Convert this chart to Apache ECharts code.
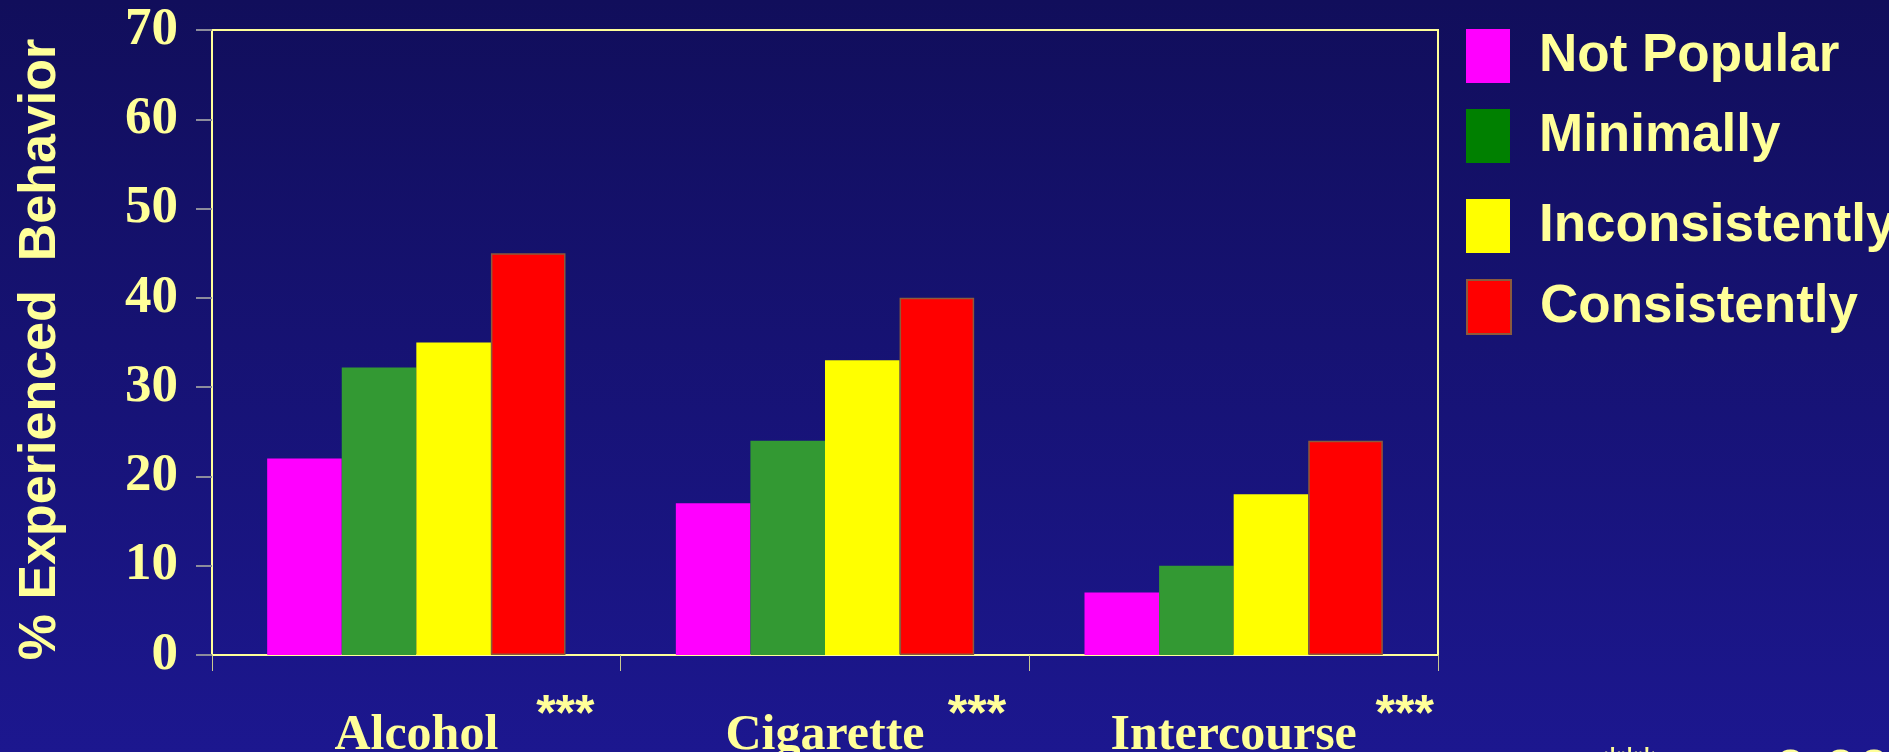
<!DOCTYPE html>
<html>
<head>
<meta charset="utf-8">
<script src="https://cdn.jsdelivr.net/npm/echarts@6/dist/echarts.min.js"></script>
<style>
html,body{margin:0;padding:0;background:#1a1580;}
#chart{width:1889px;height:752px;}
</style>
</head>
<body>
<div id="chart"></div>
<script>
const categories = ['Alcohol', 'Cigarette', 'Intercourse'];
const seriesNames = ['Not Popular', 'Minimally', 'Inconsistently', 'Consistently'];
const notPopular = [22, 17, 7];
const minimally = [32.2, 24, 10];
const inconsistently = [35, 33, 18];
const consistently = [45, 40, 24];
const yTicks = [0, 10, 20, 30, 40, 50, 60, 70];
const significance = ['***', '***', '***'];
const footnoteStars = '***';
const footnoteText = ' p < 0.001';

const TXT = '#FFFF99';
const SERIF = "'Liberation Serif','Times New Roman',serif";
const SANS = "'Liberation Sans',Arial,sans-serif";
const barColors = ['#FF00FF', '#339933', '#FFFF00', '#FF0000'];
const legendColors = ['#FF00FF', '#008000', '#FFFF00', '#FF0000'];
const legendTops = [24, 104, 194, 274];
const starPads = [298, 304, 342];
const values = [notPopular, minimally, inconsistently, consistently];

const starRich = {};
starPads.forEach((p, i) => {
  starRich['s' + i] = {
    padding: [0, 0, 0, p],
    color: TXT, fontFamily: SANS, fontSize: 50, fontWeight: 'bold'
  };
});

const chart = echarts.init(document.getElementById('chart'));
chart.setOption({
  animation: false,
  backgroundColor: {
    type: 'linear', x: 0, y: 0, x2: 0, y2: 1,
    colorStops: [{offset: 0, color: '#110E5B'}, {offset: 1, color: '#1C178F'}]
  },
  title: {
    text: '{s|' + footnoteStars + '}{t|' + footnoteText + '}',
    left: 1604, top: 744, padding: 0,
    textStyle: {
      color: TXT, fontFamily: SANS, fontSize: 60, fontWeight: 'normal',
      rich: {
        s: {color: TXT, fontFamily: SANS, fontSize: 44, verticalAlign: 'top'},
        t: {color: TXT, fontFamily: SANS, fontSize: 60}
      }
    }
  },
  legend: seriesNames.map((n, i) => ({
    orient: 'vertical',
    left: 1461, top: legendTops[i],
    itemWidth: 44, itemHeight: 54,
    icon: 'rect',
    selectedMode: false,
    data: [{name: n, itemStyle: {color: legendColors[i]}}],
    textStyle: {color: TXT, fontFamily: SANS, fontSize: 53, fontWeight: 'bold', padding: [0, 0, 0, 24]}
  })),
  grid: {
    left: 212, right: 451, top: 30, bottom: 97,
    containLabel: false,
    outerBoundsMode: 'none',
    show: true, borderColor: TXT, borderWidth: 2, backgroundColor: 'transparent'
  },
  xAxis: [{
    type: 'category',
    data: categories,
    axisLine: {lineStyle: {color: TXT, width: 2}},
    axisTick: {show: true, length: 16, lineStyle: {color: '#C8C890', width: 1}},
    axisLabel: {
      margin: 56, interval: 0,
      color: TXT, fontFamily: SERIF, fontSize: 50, fontWeight: 'bold'
    }
  }, {
    type: 'category',
    data: categories,
    position: 'bottom',
    axisLine: {show: false},
    axisTick: {show: false},
    axisLabel: {
      margin: 36, interval: 0,
      formatter: (v, i) => '{s' + i + '|' + significance[i] + '}',
      rich: starRich,
      color: TXT, fontFamily: SANS, fontSize: 50, fontWeight: 'bold'
    }
  }],
  yAxis: {
    type: 'value',
    min: yTicks[0], max: yTicks[yTicks.length - 1], interval: 10,
    name: '% Experienced  Behavior',
    nameLocation: 'middle', nameRotate: 90, nameGap: 145,
    nameTextStyle: {color: TXT, fontFamily: SANS, fontSize: 52, fontWeight: 'bold', padding: [0, 14, 0, 0]},
    axisLine: {show: true, lineStyle: {color: TXT, width: 2}},
    axisTick: {show: true, length: 16, lineStyle: {color: '#8C8C9C', width: 2}},
    splitLine: {show: false},
    axisLabel: {margin: 34, color: TXT, fontFamily: SERIF, fontSize: 53, fontWeight: 'bold'}
  },
  series: seriesNames.map((n, i) => ({
    name: n,
    type: 'bar',
    data: values[i],
    barGap: '0%',
    barCategoryGap: '27%',
    itemStyle: {
      color: barColors[i],
      borderColor: i === 3 ? '#8B5A3C' : barColors[i],
      borderWidth: i === 3 ? 1.5 : 0
    }
  }))
});
</script>
</body>
</html>
